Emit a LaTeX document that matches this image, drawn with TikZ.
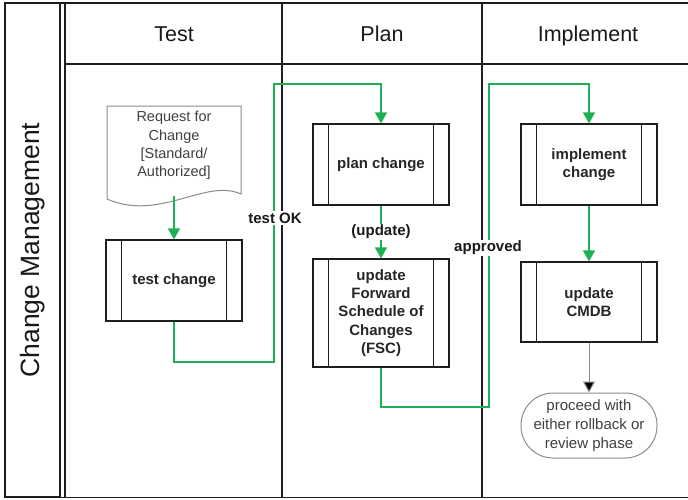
\documentclass[tikz,border=0pt]{standalone}
\usepackage{fontspec}
\setmainfont{Liberation Sans}
\usetikzlibrary{arrows.meta}
\definecolor{flowgreen}{RGB}{30,176,84}
\definecolor{frame}{RGB}{30,30,30}
\definecolor{softgray}{RGB}{140,140,140}
\tikzset{
  lane/.style={draw=frame, line width=1.6pt},
  subproc/.style={draw=frame, line width=1.2pt, fill=white, minimum width=136pt, align=center,
     font=\fontsize{15}{18.3}\selectfont\bfseries, text=black!85, inner sep=0pt},
  flow/.style={draw=flowgreen, line width=1.2pt, -{Triangle[width=12pt,length=11pt]}},
  flowlabel/.style={fill=white, inner sep=1.5pt, font=\fontsize{15}{17}\selectfont\bfseries, text=black!90},
  header/.style={font=\fontsize{21.5}{25}\selectfont, text=black!90, anchor=base},
}
\begin{document}
\begin{tikzpicture}[x=1pt,y=-1pt]
\useasboundingbox (0,0) rectangle (688,499);
\fill[white] (0,0) rectangle (688,499);
% frame
\draw[frame, line width=1.2pt] (5,3) rectangle (60,497);
\draw[lane] (65,3) -- (65,497);
\draw[lane] (5,3) -- (688,3);
\draw[lane] (60,497.5) -- (688,497.5);
\draw[lane] (65,64) -- (688,64);
\node[header] (hT) at (174,41) {Test};
\node[header] (hP) at (382,41) {Plan};
\node[header] (hI) at (588,41) {Implement};
\node[rotate=90, font=\fontsize{26.5}{30}\selectfont, text=black!90] (title) at (33,250) {Change Management};
% lane dividers
\draw[lane] (282,3) -- (282,497);
\draw[lane] (482,3) -- (482,497);
% document shape
\draw[softgray, line width=1pt, fill=white] (107,106) -- (241,106) -- (241,194)
   .. controls (205,178) and (160,222) .. (107,199) -- cycle;
\node[align=center, font=\fontsize{14.5}{18.3}\selectfont, text=black!75] (rfc) at (174,145.5)
   {Request for\\Change\\{[}Standard/\\Authorized{]}};
\coordinate (rfcb) at (174,196);
% subprocess boxes
\node[subproc, minimum height=81pt] (test) at (174,280.5) {test change};
\node[subproc, minimum height=81pt] (plan) at (381,164.5) {plan change};
\node[subproc, minimum height=108pt] (fsc) at (381,313) {update\\Forward\\Schedule of\\Changes\\(FSC)};
\node[subproc, minimum height=81pt] (impl) at (589,164.5) {implement\\change};
\node[subproc, minimum height=80pt] (cmdb) at (589,302) {update\\CMDB};
\foreach \n in {test,plan,fsc,impl,cmdb}{
  \draw[frame, line width=1.2pt] ([xshift=16pt]\n.north west) -- ([xshift=16pt]\n.south west);
  \draw[frame, line width=1.2pt] ([xshift=-16pt]\n.north east) -- ([xshift=-16pt]\n.south east);
}
\node[draw=softgray, line width=1pt, rounded corners=32pt, minimum width=136pt, minimum height=65pt,
   align=center, font=\fontsize{15}{18.7}\selectfont, text=black!75, inner sep=0pt] (term) at (589,425.5)
   {proceed with\\either rollback or\\review phase};
% connectors
\coordinate (c1) at (274,362);
\coordinate (c2) at (274,84);
\coordinate (c3) at (489,407);
\coordinate (c4) at (489,84);
\draw[flow] (rfcb) -- (test.north);
\draw[flow] (test.south) |- (c1) -- (c2) -| (plan.north);
\draw[flow] (plan.south) -- (fsc.north);
\draw[flow] (fsc.south) |- (c3) -- (c4) -| (impl.north);
\draw[flow] (impl.south) -- (cmdb.north);
\draw[softgray, line width=1pt, -{Triangle[width=12pt,length=11pt,fill=black]}, draw=softgray] (cmdb.south) -- (term.north);
% labels
\node[flowlabel] (lok) at (275,218) {test OK};
\node[flowlabel] (lup) at (381,232) {(update)};
\node[flowlabel] (lap) at (488,248) {approved};
\end{tikzpicture}
\end{document}
